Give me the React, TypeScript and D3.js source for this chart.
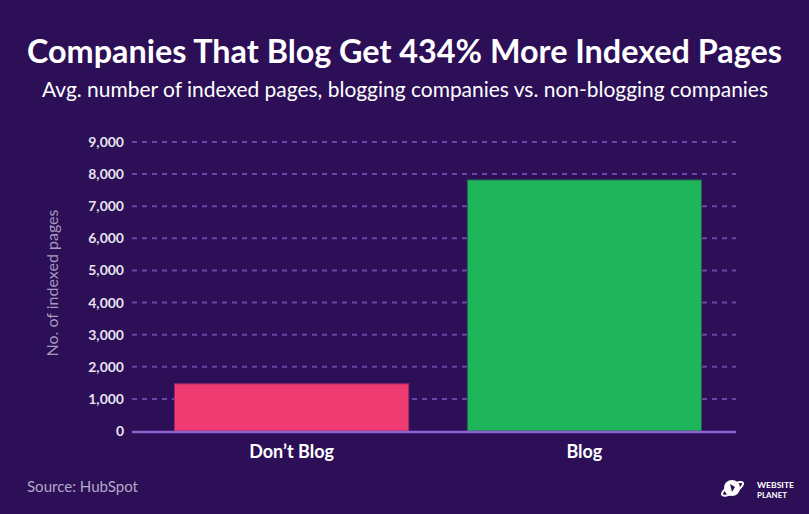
import React from "react";
import * as d3 from "d3";

const categories = ["Don’t Blog", "Blog"];
const values = [1470, 7820];
const barColors = ["#ef3b72", "#1fb65b"];
const yTicks = [0, 1000, 2000, 3000, 4000, 5000, 6000, 7000, 8000, 9000];

const W = 809;
const H = 514;
const BG = "#2c0f57";

export default function App() {
  const x = d3.scaleBand<string>().domain(categories).range([137, 739]).paddingInner(0.2).paddingOuter(0.128);
  const y = d3.scaleLinear().domain([0, 9000]).range([431, 142]);
  const fmt = d3.format(",");
  const font = "Lato, 'Open Sans', sans-serif";
  return (
    <svg width={W} height={H} style={{ position: "absolute", left: 0, top: 0, fontFamily: font }}>
      <rect x={0} y={0} width={W} height={H} fill={BG} />
      <text x={27} y={63} fill="#ffffff" fontSize={33} fontWeight={700} textLength={755} lengthAdjust="spacingAndGlyphs">
        Companies That Blog Get 434% More Indexed Pages
      </text>
      <text x={42} y={97} fill="#ffffff" fontSize={21} textLength={726} lengthAdjust="spacingAndGlyphs">
        Avg. number of indexed pages, blogging companies vs. non-blogging companies
      </text>
      {yTicks.filter((t) => t > 0).map((t) => (
        <line key={t} x1={132} x2={736} y1={y(t)} y2={y(t)} stroke="#6a46aa" strokeWidth={2} strokeDasharray="5 5" />
      ))}
      {yTicks.map((t) => (
        <text key={"l" + t} x={124} y={y(t) + 5} textAnchor="end" fill="#e6e2ef" fontSize={14} fontWeight={700}>
          {fmt(t)}
        </text>
      ))}
      <text
        transform={`translate(58,${283}) rotate(-90)`}
        textAnchor="middle"
        fill="#a89bbf"
        fontSize={16}
      >
        No. of indexed pages
      </text>
      {categories.map((c, i) => (
        <rect
          key={c}
          x={x(c)}
          y={y(values[i])}
          width={x.bandwidth()}
          height={y(0) - y(values[i])}
          fill={barColors[i]}
          stroke={i === 0 ? "#9a2a6a" : "#1f5a55"}
          strokeWidth={1}
        />
      ))}
      <line x1={132} x2={736} y1={432} y2={432} stroke="#8e62cf" strokeWidth={2.5} />
      {categories.map((c) => (
        <text key={"c" + c} x={(x(c) as number) + x.bandwidth() / 2} y={458} textAnchor="middle" fill="#ffffff" fontSize={18} fontWeight={700}>
          {c}
        </text>
      ))}
      <text x={27} y={492} fill="#b3a9c6" fontSize={15} textLength={111} lengthAdjust="spacingAndGlyphs">
        Source: HubSpot
      </text>
      <g transform="translate(732,488)">
        <circle cx={0} cy={0} r={8} fill="#ffffff" />
        <ellipse cx={0} cy={1} rx={12} ry={4} fill="none" stroke="#ffffff" strokeWidth={2} transform="rotate(-30)" />
        <path d="M-2,-4 L3,-1 L0,4 Z" fill={BG} />
      </g>
      <text x={757} y={487.5} fill="#ffffff" fontSize={8} fontWeight={700} textLength={37} lengthAdjust="spacingAndGlyphs">
        WEBSITE
      </text>
      <text x={757} y={497.5} fill="#ffffff" fontSize={8} fontWeight={700} textLength={30} lengthAdjust="spacingAndGlyphs">
        PLANET
      </text>
    </svg>
  );
}
